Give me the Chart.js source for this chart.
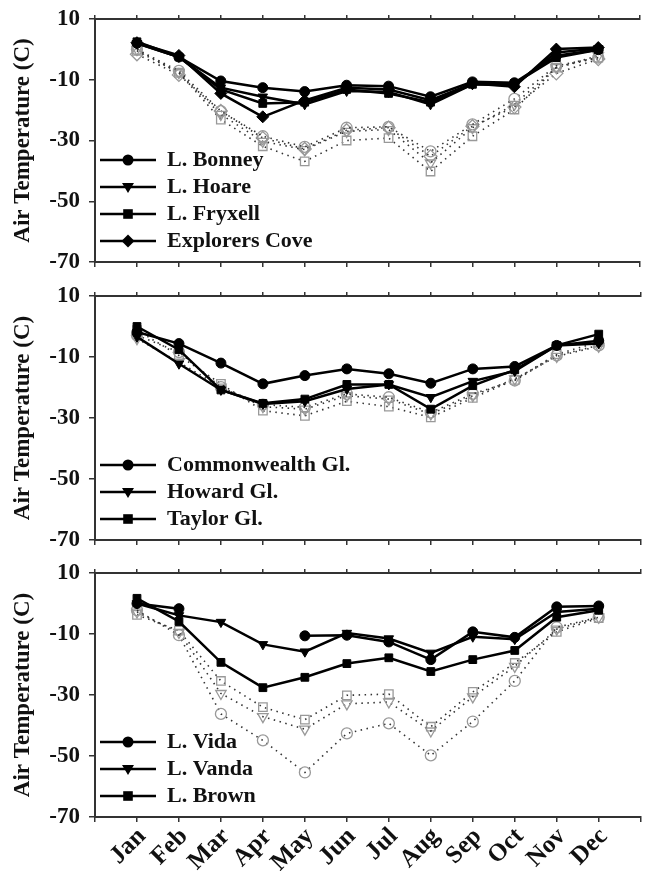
<!DOCTYPE html>
<html>
<head>
<meta charset="utf-8">
<script src="https://cdn.jsdelivr.net/npm/chart.js@4.4.0/dist/chart.umd.min.js"></script>
<style>
  html, body { margin: 0; padding: 0; background: #fff; overflow: hidden; }
  #wrap { position: relative; width: 648px; height: 871px; }
  canvas { position: absolute; left: 0; }
</style>
</head>
<body>
<div id="wrap">
  <canvas id="panel1" width="648" height="279" style="top:0px"></canvas>
  <canvas id="panel2" width="648" height="277" style="top:279px"></canvas>
  <canvas id="panel3" width="648" height="315" style="top:556px"></canvas>
</div>
<script>
const months = ['Jan', 'Feb', 'Mar', 'Apr', 'May', 'Jun', 'Jul', 'Aug', 'Sep', 'Oct', 'Nov', 'Dec'];
const yTicks = [10, -10, -30, -50, -70];

// top panel: monthly means (solid) and minima (dotted)
const bonneyMean    = [2.0, -2.5, -10.4, -12.6, -13.9, -11.8, -12.1, -15.6, -10.7, -11.0, -2.1, -0.1];
const hoareMean     = [2.0, -2.5, -12.6, -15.6, -18.1, -13.7, -14.0, -18.1, -11.5, -11.8, -1.0, 0.3];
const fryxellMean   = [2.5, -2.5, -13.2, -17.8, -17.4, -13.2, -14.5, -17.4, -11.5, -11.2, -2.7, -0.1];
const explorersMean = [2.2, -2.0, -14.5, -22.2, -16.8, -12.6, -13.2, -16.7, -11.2, -12.3, 0.1, 0.6];
const bonneyMin     = [0.0, -7.1, -20.3, -28.6, -32.1, -25.8, -25.5, -33.6, -24.7, -16.3, -5.4, -2.7];
const hoareMin      = [0.0, -7.7, -21.4, -30.3, -33.0, -27.0, -26.4, -37.4, -25.8, -18.1, -6.0, -2.1];
const fryxellMin    = [-0.5, -7.7, -23.1, -31.9, -36.9, -30.0, -29.2, -40.2, -28.6, -19.8, -6.0, -2.7];
const explorersMin  = [-1.6, -8.4, -20.3, -29.2, -32.8, -26.6, -25.8, -35.2, -25.3, -19.0, -7.9, -3.2];

// middle panel: glaciers
const commonwealthMean = [-1.8, -5.6, -12.0, -18.8, -16.1, -13.9, -15.5, -18.6, -13.9, -13.1, -6.2, -4.7];
const howardMean       = [-3.4, -12.2, -20.8, -25.4, -24.5, -20.5, -19.0, -23.2, -17.9, -14.6, -6.2, -5.6];
const taylorMean       = [0.0, -7.6, -20.8, -25.2, -23.8, -19.0, -19.0, -27.1, -19.4, -14.2, -6.2, -2.5];
const commonwealthMin  = [-2.9, -8.4, -19.9, -25.6, -26.5, -22.1, -23.2, -28.2, -22.1, -17.7, -9.5, -6.2];
const howardMin        = [-4.0, -11.7, -19.9, -26.3, -27.1, -22.7, -23.8, -28.7, -22.7, -17.2, -9.8, -6.5];
const taylorMin        = [-1.2, -9.5, -18.8, -27.6, -29.3, -24.5, -26.3, -29.8, -23.4, -17.5, -9.1, -5.1];

// bottom panel: Wright Valley lakes (Vida has no Mar/Apr mean)
const vidaMean  = [0.0, -1.7, null, null, -10.6, -10.4, -12.6, -18.4, -9.3, -11.1, -1.1, -0.8];
const vandaMean = [0.0, -3.9, -6.1, -13.4, -15.8, -9.7, -11.5, -16.2, -10.9, -11.7, -2.8, -1.7];
const brownMean = [1.7, -5.9, -19.3, -27.6, -24.2, -19.7, -17.8, -22.3, -18.4, -15.4, -4.5, -2.2];
const vidaMin   = [-2.2, -10.4, -36.2, -44.9, -55.4, -42.6, -39.3, -49.8, -38.7, -25.4, -7.8, -4.5];
const vandaMin  = [-2.8, -9.5, -29.5, -37.1, -41.2, -32.9, -32.3, -41.8, -30.6, -20.6, -8.4, -4.5];
const brownMin  = [-3.7, -8.9, -25.4, -34.0, -38.1, -30.1, -29.7, -40.4, -29.0, -19.5, -9.3, -4.8];

const serif = '"Liberation Serif", "Times New Roman", serif';
const ink = '#111';
const axisColor = '#333';

const toPoints = (values) => values.map((v, i) => ({ x: i + 1, y: v }));

// small line+marker image for the legend
function legendIcon(shape) {
    const c = document.createElement('canvas');
    c.width = 56;
    c.height = 16;
    const g = c.getContext('2d');
    g.strokeStyle = '#000';
    g.fillStyle = '#000';
    g.lineWidth = 2.5;
    g.beginPath();
    g.moveTo(0, 8);
    g.lineTo(56, 8);
    g.stroke();
    const x = 28, y = 8, r = 5.5;
    g.beginPath();
    if (shape === 'circle') {
        g.arc(x, y, r, 0, Math.PI * 2);
    } else if (shape === 'rect') {
        g.rect(x - 4.8, y - 4.8, 9.6, 9.6);
    } else if (shape === 'rectRot') {
        g.moveTo(x, y - 6.5); g.lineTo(x + 6.5, y); g.lineTo(x, y + 6.5); g.lineTo(x - 6.5, y); g.closePath();
    } else {
        g.moveTo(x - 6, y - 4); g.lineTo(x + 6, y - 4); g.lineTo(x, y + 6); g.closePath();
    }
    g.fill();
    return c;
}

// the chartArea legend is laid out from y=0; move it into the plot box
const legendInPlot = {
    id: 'legendInPlot',
    afterLayout(chart) {
        const legend = chart.legend;
        const area = chart.chartArea;
        if (!legend) return;
        legend.top = area.top;
        legend.bottom = area.bottom - 5;
    },
};

const styleOf = {
    circle: { pointStyle: 'circle', pointRotation: 0, pointRadius: 5 },
    tri: { pointStyle: 'triangle', pointRotation: 180, pointRadius: 5.5 },
    rect: { pointStyle: 'rect', pointRotation: 0, pointRadius: 5.5 },
    rectRot: { pointStyle: 'rectRot', pointRotation: 0, pointRadius: 6 },
};

function solid(label, values, shape) {
    return {
        label,
        data: toPoints(values),
        borderColor: '#000',
        backgroundColor: '#000',
        borderWidth: 2.5,
        pointBackgroundColor: '#000',
        pointBorderColor: '#000',
        pointBorderWidth: 1,
        order: 0,
        shape,
        ...styleOf[shape],
    };
}

function dotted(values, shape) {
    return {
        label: '',
        data: toPoints(values),
        borderColor: '#333',
        borderWidth: 1.6,
        borderDash: [1.5, 4.5],
        pointBackgroundColor: 'rgba(255,255,255,0)',
        pointBorderColor: '#999',
        pointBorderWidth: 1.3,
        order: 1,
        ...styleOf[shape],
        pointRadius: styleOf[shape].pointRadius + 0.5,
    };
}

function makePanel(id, datasets, topH, bottomH, showMonths) {
    new Chart(document.getElementById(id), {
        type: 'line',
        data: { datasets },
        plugins: [legendInPlot],
        options: {
            responsive: false,
            animation: false,
            layout: { padding: 0 },
            plugins: {
                tooltip: { enabled: false },
                legend: {
                    position: 'chartArea',
                    align: 'end',
                    labels: {
                        usePointStyle: true,
                        pointStyleWidth: 56,
                        padding: 5,
                        color: ink,
                        font: { family: serif, weight: 'bold', size: 22 },
                        generateLabels: (chart) => chart.data.datasets
                            .map((ds, i) => ({ ds, i }))
                            .filter(({ ds }) => ds.label)
                            .map(({ ds, i }) => ({
                                text: ds.label,
                                pointStyle: legendIcon(ds.shape),
                                fillStyle: '#000',
                                strokeStyle: '#000',
                                lineWidth: 0,
                                fontColor: ink,
                                hidden: false,
                                datasetIndex: i,
                            })),
                    },
                },
            },
            scales: {
                x: {
                    type: 'linear',
                    position: 'bottom',
                    min: 0,
                    max: 13,
                    ticks: {
                        display: showMonths,
                        stepSize: 1,
                        autoSkip: false,
                        minRotation: 45,
                        maxRotation: 45,
                        padding: 0,
                        labelOffset: 5,
                        color: ink,
                        font: { family: serif, weight: 'bold', size: 25 },
                        callback: (v) => months[v - 1] || '',
                    },
                    grid: { drawOnChartArea: false, tickLength: 5, color: axisColor, lineWidth: 1.5 },
                    border: { color: axisColor, width: 2 },
                    afterFit: (scale) => {
                        scale.height = bottomH;
                        scale.paddingLeft = 0;
                        scale.paddingRight = 0;
                    },
                },
                x2: {
                    type: 'linear',
                    position: 'top',
                    min: 0,
                    max: 13,
                    ticks: { display: false, stepSize: 1 },
                    grid: { drawOnChartArea: false, tickLength: 4, color: axisColor, lineWidth: 1.5 },
                    border: { color: axisColor, width: 2 },
                    afterFit: (scale) => {
                        scale.height = topH;
                        scale.paddingLeft = 0;
                        scale.paddingRight = 0;
                    },
                },
                y: {
                    min: yTicks[yTicks.length - 1],
                    max: yTicks[0],
                    ticks: { stepSize: 20, padding: 9, color: ink, font: { family: serif, weight: 'bold', size: 23 } },
                    grid: { drawOnChartArea: false, tickLength: 6, color: axisColor, lineWidth: 1.5 },
                    border: { color: axisColor, width: 2 },
                    title: {
                        display: true,
                        text: 'Air Temperature (C)',
                        color: ink,
                        font: { family: serif, weight: 'bold', size: 23 },
                        padding: { top: 9, bottom: 0 },
                    },
                    afterFit: (scale) => {
                        scale.width = 95;
                        scale.paddingTop = 0;
                        scale.paddingBottom = 0;
                    },
                },
            },
        },
    });
}

makePanel('panel1', [
    solid('L. Bonney', bonneyMean, 'circle'),
    solid('L. Hoare', hoareMean, 'tri'),
    solid('L. Fryxell', fryxellMean, 'rect'),
    solid('Explorers Cove', explorersMean, 'rectRot'),
    dotted(bonneyMin, 'circle'),
    dotted(hoareMin, 'tri'),
    dotted(fryxellMin, 'rect'),
    dotted(explorersMin, 'rectRot'),
], 19, 17, false);

makePanel('panel2', [
    solid('Commonwealth Gl.', commonwealthMean, 'circle'),
    solid('Howard Gl.', howardMean, 'tri'),
    solid('Taylor Gl.', taylorMean, 'rect'),
    dotted(commonwealthMin, 'circle'),
    dotted(howardMin, 'tri'),
    dotted(taylorMin, 'rect'),
], 17, 16, false);

makePanel('panel3', [
    solid('L. Vida', vidaMean, 'circle'),
    solid('L. Vanda', vandaMean, 'tri'),
    solid('L. Brown', brownMean, 'rect'),
    dotted(vidaMin, 'circle'),
    dotted(vandaMin, 'tri'),
    dotted(brownMin, 'rect'),
], 17, 54, true);
</script>
</body>
</html>
